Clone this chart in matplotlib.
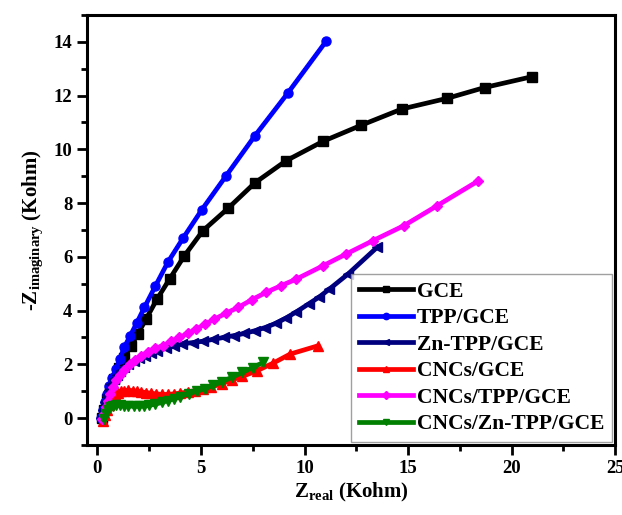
import matplotlib
matplotlib.use("Agg")
import matplotlib.pyplot as plt
from matplotlib.ticker import MultipleLocator

plt.rcParams["font.family"] = ["Liberation Serif", "DejaVu Serif"]
plt.rcParams["font.weight"] = "bold"
plt.rcParams["mathtext.fontset"] = "custom"
plt.rcParams["mathtext.rm"] = "Liberation Serif:bold"
plt.rcParams["mathtext.bf"] = "Liberation Serif:bold"
plt.rcParams["mathtext.it"] = "Liberation Serif:bold"

# Nyquist data (Kohm)
gce_x = [0.2, 0.3, 0.45, 0.6, 0.8, 1.05, 1.3, 1.63, 1.95, 2.35, 2.88, 3.48, 4.2,
         5.09, 6.3, 7.6, 9.1, 10.9, 12.75, 14.7, 16.9, 18.7, 20.97]
gce_y = [0.0, 0.3, 0.7, 1.05, 1.45, 1.85, 2.25, 2.69, 3.13, 3.69, 4.43, 5.17, 6.04,
         6.97, 7.8, 8.75, 9.57, 10.3, 10.9, 11.5, 11.9, 12.3, 12.7]

tpp_x = [0.15, 0.25, 0.35, 0.45, 0.55, 0.7, 0.9, 1.08, 1.3, 1.58, 1.9, 2.27, 2.79,
         3.4, 4.14, 5.04, 6.2, 7.6, 9.2, 11.06]
tpp_y = [0.0, 0.3, 0.6, 0.9, 1.2, 1.5, 1.82, 2.2, 2.64, 3.06, 3.54, 4.12, 4.9,
         5.8, 6.7, 7.75, 9.0, 10.5, 12.1, 14.04]

zn_x = [0.15, 0.25, 0.35, 0.45, 0.55, 0.65, 0.8, 0.95, 1.1, 1.3, 1.5, 1.75, 2.0,
        2.3, 2.6, 2.9, 3.3, 3.7, 4.1, 4.6, 5.1, 5.6, 6.1, 6.6, 7.1, 7.6, 8.1, 8.6,
        9.1, 9.6, 10.2, 10.7, 11.2, 12.1, 13.5]
zn_y = [0.0, 0.3, 0.6, 0.85, 1.05, 1.25, 1.45, 1.6, 1.75, 1.9, 2.0, 2.12, 2.22,
        2.32, 2.42, 2.5, 2.6, 2.68, 2.76, 2.81, 2.86, 2.93, 3.0, 3.07, 3.15, 3.25,
        3.37, 3.52, 3.72, 3.95, 4.25, 4.5, 4.8, 5.36, 6.35]

cnc_x = [0.25, 0.35, 0.45, 0.55, 0.65, 0.75, 0.85, 1.0, 1.15, 1.3, 1.5, 1.7, 1.9,
         2.1, 2.35, 2.6, 2.85, 3.1, 3.4, 3.7, 4.0, 4.35, 4.7, 5.1, 5.5, 6.0, 6.5,
         7.0, 7.7, 8.5, 9.3, 10.65]
cnc_y = [-0.1, 0.1, 0.3, 0.5, 0.65, 0.78, 0.88, 0.95, 1.0, 1.02, 1.03, 1.02, 1.0,
         0.98, 0.95, 0.92, 0.9, 0.88, 0.88, 0.9, 0.93, 0.97, 1.02, 1.08, 1.15, 1.28,
         1.42, 1.55, 1.76, 2.05, 2.38, 2.69]

cnc_tpp_x = [0.2, 0.3, 0.4, 0.5, 0.6, 0.75, 0.9, 1.1, 1.3, 1.55, 1.8, 2.1, 2.45,
             2.8, 3.15, 3.55, 3.96, 4.35, 4.77, 5.2, 5.65, 6.2, 6.8, 7.45, 8.15,
             8.85, 9.6, 10.9, 12.0, 13.3, 14.8, 16.4, 18.4]
cnc_tpp_y = [-0.05, 0.15, 0.4, 0.65, 0.9, 1.15, 1.4, 1.6, 1.8, 2.0, 2.15, 2.3, 2.47,
             2.6, 2.69, 2.85, 3.0, 3.15, 3.31, 3.5, 3.68, 3.9, 4.12, 4.4, 4.68,
             4.92, 5.17, 5.67, 6.1, 6.6, 7.16, 7.9, 8.83]

cnc_zn_x = [0.3, 0.4, 0.5, 0.6, 0.75, 0.9, 1.1, 1.3, 1.5, 1.75, 2.0, 2.25, 2.5,
            2.8, 3.1, 3.4, 3.7, 4.0, 4.4, 4.8, 5.2, 5.6, 6.0, 6.5, 7.0, 7.5, 8.0]
cnc_zn_y = [-0.05, 0.15, 0.3, 0.4, 0.45, 0.47, 0.47, 0.46, 0.45, 0.44, 0.44, 0.45,
            0.47, 0.52, 0.58, 0.65, 0.72, 0.8, 0.9, 1.0, 1.1, 1.22, 1.35, 1.52,
            1.7, 1.88, 2.07]

series = [
    ("GCE", gce_x, gce_y, "black", "s"),
    ("TPP/GCE", tpp_x, tpp_y, "#0000ff", "o"),
    ("Zn-TPP/GCE", zn_x, zn_y, "#00007f", "<"),
    ("CNCs/GCE", cnc_x, cnc_y, "#ff0000", "^"),
    ("CNCs/TPP/GCE", cnc_tpp_x, cnc_tpp_y, "#ff00ff", "D"),
    ("CNCs/Zn-TPP/GCE", cnc_zn_x, cnc_zn_y, "#007f00", "v"),
]

fig = plt.figure(figsize=(6.22, 5.15), dpi=100)
ax = fig.add_axes([0.14, 0.136, 0.849, 0.835])

for label, xs, ys, color, marker in series:
    ms = 5.5 if marker == "D" else 6.5
    ax.plot(xs, ys, color=color, marker=marker, markersize=ms, linewidth=3.4,
            label=label)

ax.set_xlim(-0.5, 25)
ax.set_ylim(-1, 15)
ax.xaxis.set_major_locator(MultipleLocator(5))
ax.xaxis.set_minor_locator(MultipleLocator(2.5))
ax.yaxis.set_major_locator(MultipleLocator(2))
ax.yaxis.set_minor_locator(MultipleLocator(1))
ax.tick_params(which="major", direction="out", length=7, width=2, labelsize=13.5,
               top=False, right=False)
ax.tick_params(which="minor", direction="out", length=4, width=2,
               top=False, right=False)
for sp in ax.spines.values():
    sp.set_linewidth(2.2)
for lab in ax.get_xticklabels() + ax.get_yticklabels():
    lab.set_fontweight("bold")

ax.set_xlabel(r"$\mathrm{Z_{real}}$ (Kohm)", fontsize=15, fontweight="bold",
              labelpad=3)
ax.set_ylabel(r"-$\mathrm{Z_{imaginary}}$ (Kohm)", fontsize=15, fontweight="bold",
              labelpad=6)

leg = ax.legend(loc="lower right", fontsize=15.5, frameon=True, fancybox=False,
                borderaxespad=0.15, handlelength=2.5, handletextpad=0.2,
                labelspacing=0.3, borderpad=0.35, markerscale=0.7)
leg.get_frame().set_edgecolor("#888888")
leg.get_frame().set_linewidth(1.0)

fig.savefig("out.png", dpi=100)
